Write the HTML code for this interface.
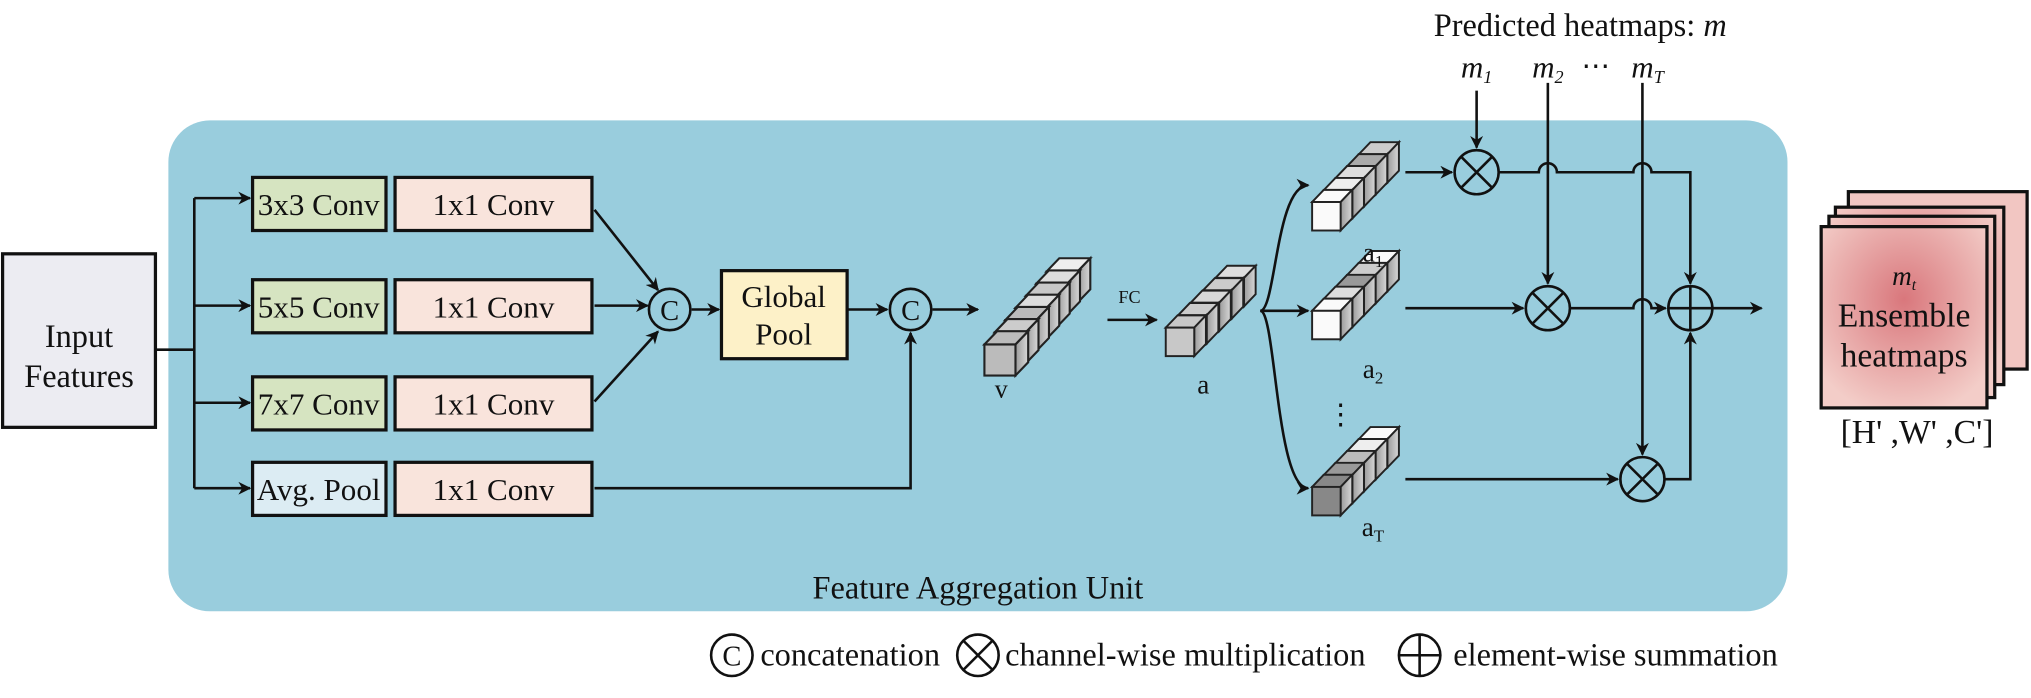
<!DOCTYPE html>
<html><head><meta charset="utf-8"><style>
html,body{margin:0;padding:0;background:#fff;}
svg{display:block;}
text{font-family:"Liberation Serif",serif;fill:#111;}
</style></head><body>
<svg width="2031" height="698" viewBox="0 0 1568 539" preserveAspectRatio="none" xmlns="http://www.w3.org/2000/svg">
<defs>
<marker id="ar" markerWidth="10" markerHeight="10" refX="9" refY="5" orient="auto" markerUnits="userSpaceOnUse"><path d="M0,0 L10,5 L0,10 L3,5 z" fill="#111"/></marker>
<radialGradient id="hg" cx="50%" cy="40%" r="65%"><stop offset="0" stop-color="#d9777c"/><stop offset="1" stop-color="#f3cdc8"/></radialGradient>
<linearGradient id="sd" x1="0" y1="0" x2="1" y2="0"><stop offset="0" stop-color="#9a9a9a"/><stop offset="1" stop-color="#d8d8d8"/></linearGradient>
<g id="cb" stroke="#222" stroke-width="1.5">
<polygon points="0,-22 22,-22 31,-31.4 9,-31.4" fill="currentColor"/>
<polygon points="22,-22 31,-31.4 31,-9.4 22,0" fill="url(#sd)"/>
<rect x="0" y="-22" width="22" height="22" fill="currentColor"/>
</g>
</defs>
<rect x="130" y="93" width="1250" height="379" rx="32" fill="#99cddd"/>
<g stroke="#111" stroke-width="2.5" fill="none">
<rect x="2" y="196" width="118" height="134" fill="#ececf2"/>
<rect x="195" y="137" width="103" height="41" fill="#d6e4c1"/>
<rect x="305" y="137" width="152" height="41" fill="#f9e4dc"/>
<rect x="195" y="216" width="103" height="41" fill="#d6e4c1"/>
<rect x="305" y="216" width="152" height="41" fill="#f9e4dc"/>
<rect x="195" y="291" width="103" height="41" fill="#d6e4c1"/>
<rect x="305" y="291" width="152" height="41" fill="#f9e4dc"/>
<rect x="195" y="357" width="103" height="41" fill="#dcecf3"/>
<rect x="305" y="357" width="152" height="41" fill="#f9e4dc"/>
<rect x="557" y="209" width="97" height="68" fill="#fdf1c8"/>
</g>
<g stroke="#111" stroke-width="2" fill="none">
<path d="M120,270 H150 M150,153 V377"/>
<path d="M150,153 H193" marker-end="url(#ar)"/>
<path d="M150,236 H193" marker-end="url(#ar)"/>
<path d="M150,311 H193" marker-end="url(#ar)"/>
<path d="M150,377 H193" marker-end="url(#ar)"/>
<path d="M459,162 L508,224" marker-end="url(#ar)"/>
<path d="M459,236 H500" marker-end="url(#ar)"/>
<path d="M459,310 L508,256" marker-end="url(#ar)"/>
<circle cx="517" cy="239" r="16"/>
<path d="M534,239 H555" marker-end="url(#ar)"/>
<path d="M655,239 H685" marker-end="url(#ar)"/>
<circle cx="703" cy="239" r="16"/>
<path d="M459,377 H703 V257" marker-end="url(#ar)"/>
<path d="M720,239 H755" marker-end="url(#ar)"/>
<path d="M855,247 H893" marker-end="url(#ar)"/>
<path d="M973,240 C985,240 985,143 1010,143" marker-end="url(#ar)"/>
<path d="M973,240 H1010" marker-end="url(#ar)"/>
<path d="M973,240 C985,240 985,377 1010,377" marker-end="url(#ar)"/>
<path d="M1140,70 V114" marker-end="url(#ar)"/>
<circle cx="1140" cy="133" r="17"/>
<path d="M1128,121 L1152,145 M1152,121 L1128,145"/>
<path d="M1085,133 H1121" marker-end="url(#ar)"/>
<path d="M1157,133 H1188 a7,7 0 0 1 14,0 H1261 a7,7 0 0 1 14,0 H1305 V219" marker-end="url(#ar)"/>
<path d="M1195,64 V219" marker-end="url(#ar)"/>
<circle cx="1195" cy="238" r="17"/>
<path d="M1183,226 L1207,250 M1207,226 L1183,250"/>
<path d="M1085,238 H1176" marker-end="url(#ar)"/>
<path d="M1212,238 H1261 a7,7 0 0 1 14,0 H1286" marker-end="url(#ar)"/>
<path d="M1268,64 V351" marker-end="url(#ar)"/>
<circle cx="1268" cy="370" r="17"/>
<path d="M1256,358 L1280,382 M1280,358 L1256,382"/>
<path d="M1085,370 H1249" marker-end="url(#ar)"/>
<path d="M1285,370 H1305 V257" marker-end="url(#ar)"/>
<circle cx="1305" cy="238" r="17"/>
<path d="M1288,238 H1322 M1305,221 V255"/>
<path d="M1322,238 H1360" marker-end="url(#ar)"/>
</g>
<g stroke="#111" stroke-width="2.5">
<rect x="1427" y="148" width="138" height="137" fill="#f2c6c2"/>
<rect x="1417" y="160" width="130" height="137" fill="url(#hg)"/>
<rect x="1412" y="167" width="128" height="140" fill="url(#hg)"/>
<rect x="1406" y="175" width="128" height="140" fill="url(#hg)"/>
</g>
<!-- v -->
<g transform="translate(760,290) scale(1.09)">
<use href="#cb" transform="translate(44.0,-51.7)" style="color:#eee"/>
<use href="#cb" transform="translate(36.7,-43.1)" style="color:#ddd"/>
<use href="#cb" transform="translate(29.4,-34.5)" style="color:#c8c8c8"/>
<use href="#cb" transform="translate(22.0,-25.9)" style="color:#ddd"/>
<use href="#cb" transform="translate(14.7,-17.2)" style="color:#bbb"/>
<use href="#cb" transform="translate(7.3,-8.6)" style="color:#ccc"/>
<use href="#cb" style="color:#bbb"/>
</g>
<!-- a -->
<g transform="translate(900,275)">
<use href="#cb" transform="translate(38.4,-38.4)" style="color:#ddd"/>
<use href="#cb" transform="translate(28.8,-28.8)" style="color:#ccc"/>
<use href="#cb" transform="translate(19.2,-19.2)" style="color:#d8d8d8"/>
<use href="#cb" transform="translate(9.6,-9.6)" style="color:#ccc"/>
<use href="#cb" style="color:#c8c8c8"/>
</g>
<!-- a1 -->
<g transform="translate(1013,178)">
<use href="#cb" transform="translate(36,-36.8)" style="color:#ccc"/>
<use href="#cb" transform="translate(27,-27.6)" style="color:#aaa"/>
<use href="#cb" transform="translate(18,-18.4)" style="color:#ddd"/>
<use href="#cb" transform="translate(9,-9.2)" style="color:#eee"/>
<use href="#cb" style="color:#fafafa"/>
</g>
<!-- a2 -->
<g transform="translate(1013,262)">
<use href="#cb" transform="translate(36,-36.8)" style="color:#fafafa"/>
<use href="#cb" transform="translate(27,-27.6)" style="color:#ccc"/>
<use href="#cb" transform="translate(18,-18.4)" style="color:#999"/>
<use href="#cb" transform="translate(9,-9.2)" style="color:#ddd"/>
<use href="#cb" style="color:#fafafa"/>
</g>
<!-- aT -->
<g transform="translate(1013,398)">
<use href="#cb" transform="translate(36,-36.8)" style="color:#fafafa"/>
<use href="#cb" transform="translate(27,-27.6)" style="color:#eee"/>
<use href="#cb" transform="translate(18,-18.4)" style="color:#bbb"/>
<use href="#cb" transform="translate(9,-9.2)" style="color:#999"/>
<use href="#cb" style="color:#888"/>
</g>
<g font-size="24" text-anchor="middle">
<text x="61" y="268" font-size="25">Input</text>
<text x="61" y="299" font-size="25">Features</text>
<text x="246" y="166">3x3 Conv</text>
<text x="381" y="166">1x1 Conv</text>
<text x="246" y="245">5x5 Conv</text>
<text x="381" y="245">1x1 Conv</text>
<text x="246" y="320">7x7 Conv</text>
<text x="381" y="320">1x1 Conv</text>
<text x="246" y="386">Avg. Pool</text>
<text x="381" y="386">1x1 Conv</text>
<text x="605" y="237">Global</text>
<text x="605" y="266">Pool</text>
<text x="517" y="247" font-size="22">C</text>
<text x="703" y="247" font-size="22">C</text>
<text x="773" y="307" font-size="20">v</text>
<text x="872" y="234" font-size="14">FC</text>
<text x="929" y="304" font-size="21">a</text>
<text x="1060" y="202" font-size="21">a<tspan font-size="13" dy="4">1</tspan></text>
<text x="1060" y="292" font-size="21">a<tspan font-size="13" dy="4">2</tspan></text>
<text x="1035" y="327" font-size="22">⋮</text>
<text x="1060" y="414" font-size="21">a<tspan font-size="13" dy="4">T</tspan></text>
<text x="1220" y="28" font-size="25">Predicted heatmaps: <tspan font-style="italic">m</tspan></text>
<text x="1140" y="60" font-size="24" font-style="italic">m<tspan font-size="14" dy="4">1</tspan></text>
<text x="1195" y="60" font-size="24" font-style="italic">m<tspan font-size="14" dy="4">2</tspan></text>
<text x="1232" y="58" font-size="22">⋯</text>
<text x="1272" y="60" font-size="24" font-style="italic">m<tspan font-size="14" dy="4">T</tspan></text>
<text x="1470" y="220" font-size="21" font-style="italic">m<tspan font-size="12" dy="4">t</tspan></text>
<text x="1470" y="252" font-size="26">Ensemble</text>
<text x="1470" y="283" font-size="26">heatmaps</text>
<text x="1480" y="342" font-size="26">[H' ,W' ,C']</text>
<text x="755" y="462" font-size="25">Feature Aggregation Unit</text>
</g>
<g stroke="#111" stroke-width="2" fill="none">
<circle cx="565" cy="506" r="16"/>
<circle cx="755" cy="506" r="16"/>
<path d="M744,495 L766,517 M766,495 L744,517"/>
<circle cx="1096" cy="506" r="16"/>
<path d="M1080,506 H1112 M1096,490 V522"/>
</g>
<g font-size="25">
<text x="565" y="514" font-size="22" text-anchor="middle">C</text>
<text x="587" y="514">concatenation</text>
<text x="776" y="514">channel-wise multiplication</text>
<text x="1122" y="514">element-wise summation</text>
</g>
</svg>
</body></html>
